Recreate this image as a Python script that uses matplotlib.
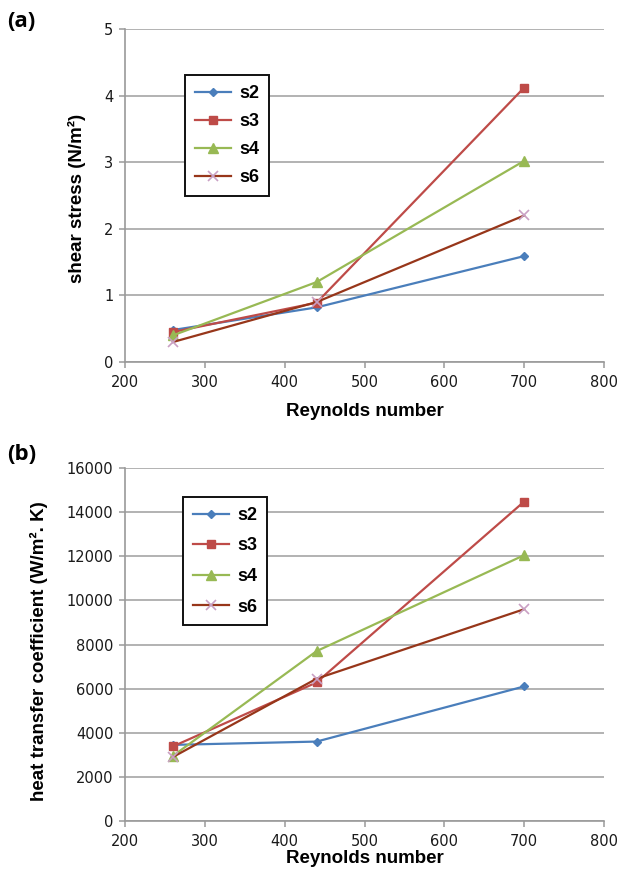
import matplotlib
matplotlib.use("Agg")
import matplotlib.pyplot as plt

# Reynolds numbers at which each configuration was evaluated
reynolds = [260, 440, 700]
series_names = ["s2", "s3", "s4", "s6"]

# (a) wall shear stress, N/m^2
shear_s2 = [0.48, 0.82, 1.59]
shear_s3 = [0.45, 0.89, 4.12]
shear_s4 = [0.40, 1.20, 3.02]
shear_s6 = [0.30, 0.90, 2.20]

# (b) heat transfer coefficient, W/m^2.K
htc_s2 = [3450, 3600, 6100]
htc_s3 = [3380, 6280, 14480]
htc_s4 = [2950, 7700, 12050]
htc_s6 = [2900, 6450, 9600]

x_ticks = [200, 300, 400, 500, 600, 700, 800]
shear_ticks = [0, 1, 2, 3, 4, 5]
htc_ticks = [0, 2000, 4000, 6000, 8000, 10000, 12000, 14000, 16000]

styles = {
    "s2": dict(color="#4A7EBB", marker="D", markersize=4.5, mfc="#4A7EBB", mec="#4A7EBB"),
    "s3": dict(color="#BE4B48", marker="s", markersize=6, mfc="#BE4B48", mec="#BE4B48"),
    "s4": dict(color="#98B954", marker="^", markersize=6.5, mfc="#98B954", mec="#98B954"),
    "s6": dict(color="#97361A", marker="x", markersize=6.5, mfc="none", mec="#C9A0C4",
               markeredgewidth=1.2),
}

fig = plt.figure(figsize=(6.23, 8.80), dpi=100)
ax_a = fig.add_axes([125 / 623, 518 / 880, 479 / 623, 333 / 880])
ax_b = fig.add_axes([125 / 623, 59 / 880, 479 / 623, 353 / 880])

tick_font = dict(family=["DejaVu Sans"], size=10.5)
label_font = dict(family=["Liberation Sans", "DejaVu Sans"], size=13.5, weight="bold")


def style_axes(ax, yticks, ylim):
    ax.set_xlim(200, 800)
    ax.set_ylim(*ylim)
    ax.set_xticks(x_ticks)
    ax.set_yticks(yticks)
    ax.set_xticklabels([str(v) for v in x_ticks], **tick_font)
    ax.set_yticklabels([str(v) for v in yticks], **tick_font)
    for side in ("top", "right"):
        ax.spines[side].set_visible(False)
    for side in ("left", "bottom"):
        ax.spines[side].set_color("#9a9a9a")
        ax.spines[side].set_linewidth(1.2)
    ax.tick_params(axis="both", direction="out", length=4.5, width=1.1,
                   color="#9a9a9a", labelcolor="#1a1a1a")
    ax.tick_params(axis="x", pad=5)
    ax.tick_params(axis="y", pad=4)
    ax.yaxis.grid(True, color="#a6a6a6", linewidth=1.2)
    ax.set_axisbelow(True)
    ax.set_xlabel("Reynolds number", **label_font)
    ax.xaxis.label.set_verticalalignment("center")


def draw_series(ax, data):
    for name, values in zip(series_names, data):
        ax.plot(reynolds, values, linewidth=1.6, label=name, **styles[name])


draw_series(ax_a, [shear_s2, shear_s3, shear_s4, shear_s6])
style_axes(ax_a, shear_ticks, (0, 5))
ax_a.set_ylabel("shear stress (N/m²)", **label_font)
ax_a.yaxis.label.set_verticalalignment("center")
ax_a.yaxis.set_label_coords(-0.100, 0.49)
ax_a.xaxis.set_label_coords(0.5, -0.150)

draw_series(ax_b, [htc_s2, htc_s3, htc_s4, htc_s6])
style_axes(ax_b, htc_ticks, (0, 16000))
ax_b.set_ylabel("heat transfer coefficient (W/m². K)", **label_font)
ax_b.yaxis.label.set_verticalalignment("center")
ax_b.yaxis.set_label_coords(-0.180, 0.48)
ax_b.xaxis.set_label_coords(0.5, -0.105)

legend_kw = dict(loc="upper left", frameon=True, fancybox=False, framealpha=1,
                 edgecolor="#111111", borderpad=0.55, labelspacing=0.62,
                 handlelength=2.0, handletextpad=0.45, borderaxespad=0,
                 prop=dict(family=["Liberation Sans", "DejaVu Sans"], size=13, weight="bold"))
leg_a = ax_a.legend(bbox_to_anchor=(0.125, 0.862), **legend_kw)
leg_a.get_frame().set_linewidth(1.4)
legend_kw["labelspacing"] = 0.75
leg_b = ax_b.legend(bbox_to_anchor=(0.121, 0.918), **legend_kw)
leg_b.get_frame().set_linewidth(1.4)

panel_font = dict(family=["Open Sans", "DejaVu Sans"], size=16, weight="bold")
fig.text(0.012, 0.976, "(a)", ha="left", va="center", **panel_font)
fig.text(0.012, 0.484, "(b)", ha="left", va="center", **panel_font)

fig.savefig("out.png", dpi=100, facecolor="white")
